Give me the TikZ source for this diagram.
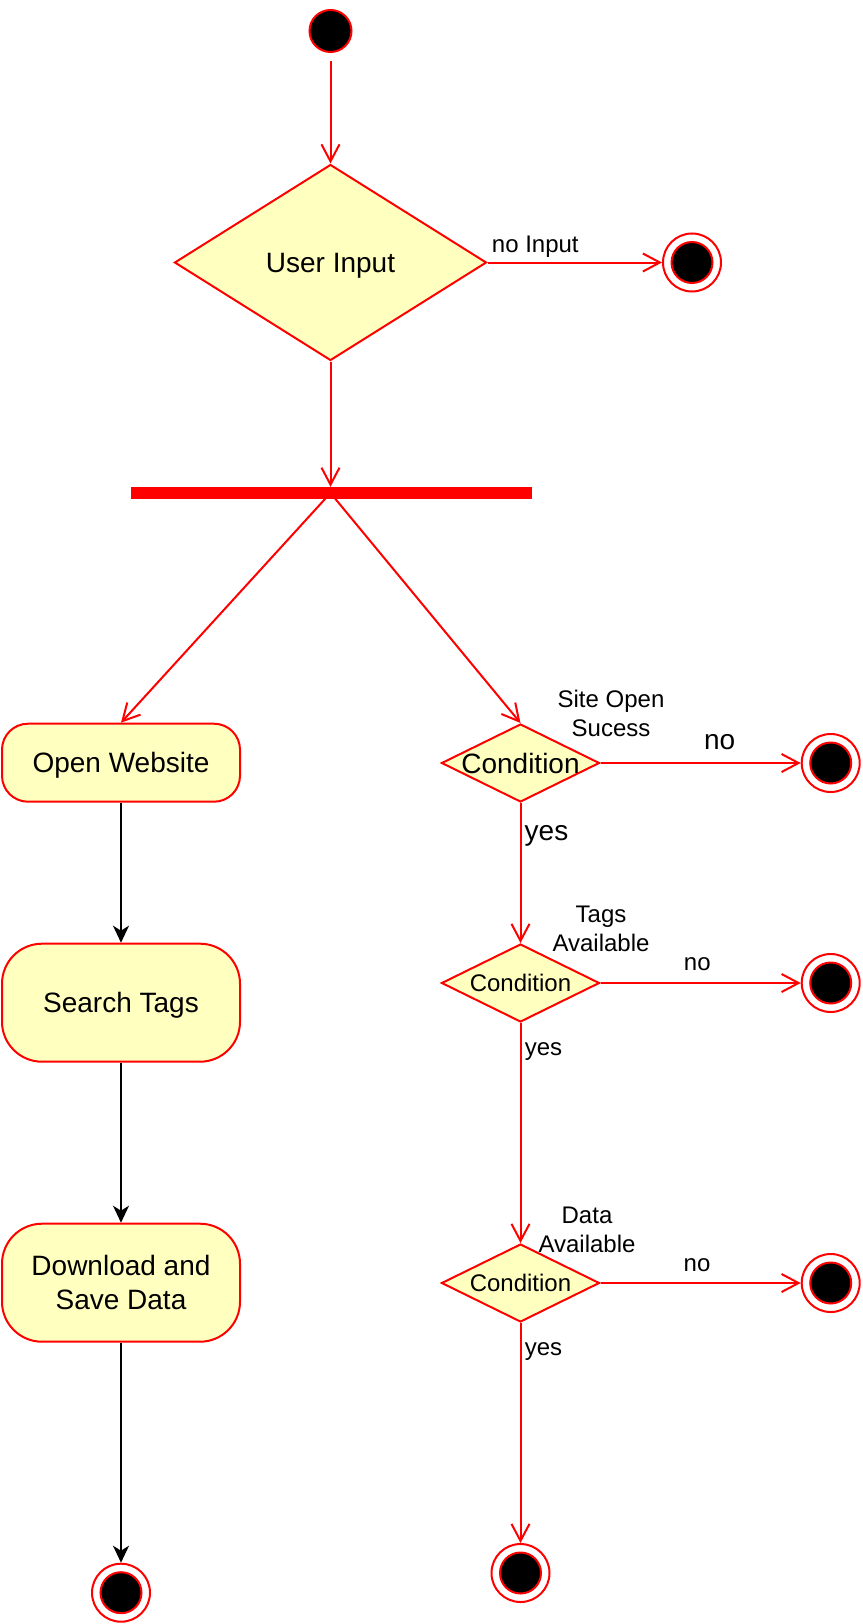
\documentclass[tikz,border=0pt]{standalone}
\usepackage{fontspec}
\setmainfont{Liberation Sans}
\usetikzlibrary{arrows.meta,shapes.geometric}

\definecolor{umlfill}{HTML}{FFFFC0}
\tikzset{
  flow/.style={draw=red, line width=2pt, -{Straight Barb[length=17pt,width=18pt]}},
  seq/.style={draw=black, line width=2pt, -{Stealth[length=17pt,width=16pt,inset=5pt]}},
  action/.style={draw=red, fill=umlfill, line width=2pt, minimum width=238pt, text depth=0pt, align=center, font=\fontsize{28}{34}\selectfont},
  decision/.style={diamond, aspect=2, draw=red, fill=umlfill, line width=2pt, inner sep=0pt, text depth=0pt},
  startstate/.style={circle, draw=red, fill=black, line width=2pt, minimum size=42pt, inner sep=0pt},
  endstate/.style={circle, draw=red, line width=2pt, minimum size=58pt, inner sep=0pt,
    path picture={\draw[red, fill=black, line width=2pt] (path picture bounding box.center) circle (20.5pt);}},
  guard/.style={font=\fontsize{24}{29}\selectfont, align=center, inner sep=0pt},
  bigguard/.style={guard, font=\fontsize{28}{34}\selectfont},
}

\begin{document}
\begin{tikzpicture}[x=1pt, y=-1pt]
    \useasboundingbox (0,0) rectangle (862,1624);

    % start, user input and fork
    \node[startstate] (start) at (330.5,31) {};
    \node[decision, aspect=1.6, minimum width=312pt, minimum height=196pt, font=\fontsize{28}{34}\selectfont] (input) at (330.5,262.5) {User Input};
    \node[endstate] (stopInput) at (692,262.5) {};
    \node[fill=red, minimum width=401pt, minimum height=12pt, inner sep=0pt] (fork) at (331.5,493) {};
    \coordinate (split) at (input.south |- fork.center);

    % left branch
    \node[action, minimum height=78pt, rounded corners=26pt] (openSite) at (121,762.7) {Open Website};
    \node[action, minimum height=118pt, rounded corners=40pt] (searchTags) at (121,1002.7) {Search Tags};
    \node[action, minimum height=118pt, rounded corners=40pt] (download) at (121,1282.7) {Download and\\Save Data};
    \node[endstate] (endDownload) at (121,1592.7) {};

    % right branch
    \node[decision, minimum width=158pt, minimum height=78pt, inner xsep=-20pt, font=\fontsize{28}{34}\selectfont] (condSite) at (520.5,763) {Condition};
    \foreach \n/\y in {Tags/983, Data/1283} {
        \node[decision, minimum width=158pt, minimum height=78pt, font=\fontsize{24}{29}\selectfont] (cond\n) at (520.5,\y) {Condition};
    }
    \foreach \n/\y in {Site/763, Tags/983, Data/1283} {
        \node[endstate] (stop\n) at (830.7,\y) {};
    }
    \node[endstate] (endData) at (520.5,1573) {};

    % guards
    \node[guard] (lblInput) at (535.3,247) {no Input};
    \node[guard] (lblSite) at (611,713) {Site Open\\Sucess};
    \node[bigguard] (lblSiteNo) at (719.7,741.7) {no};
    \node[bigguard] (lblSiteYes) at (546.5,835.7) {yes};
    \node[guard] (lblTags) at (601,929) {Tags\\Available};
    \node[guard] (lblTagsNo) at (697.3,964.3) {no};
    \node[guard] (lblTagsYes) at (543.5,1052) {yes};
    \node[guard] (lblData) at (587,1230) {Data\\Available};
    \node[guard] (lblDataNo) at (697,1265) {no};
    \node[guard] (lblDataYes) at (543.5,1352) {yes};

    % red flows
    \draw[flow, shorten <=8pt] (start) -- (input);
    \draw[flow] (input) -- (stopInput);
    \draw[flow] (input.south) -- (input.south |- fork.north);
    \draw[flow] (split) -- (openSite.north);
    \draw[flow] (split) -- (condSite.north);
    \draw[flow] (condSite) -- (condTags);
    \draw[flow] (condTags) -- (condData);
    \draw[flow] (condData) -- (endData);
    \foreach \n in {Site, Tags, Data} {
        \draw[flow] (cond\n) -- (stop\n);
    }

    % black flows
    \draw[seq] (openSite) -- (searchTags);
    \draw[seq] (searchTags) -- (download);
    \draw[seq] (download) -- (endDownload);
\end{tikzpicture}
\end{document}
